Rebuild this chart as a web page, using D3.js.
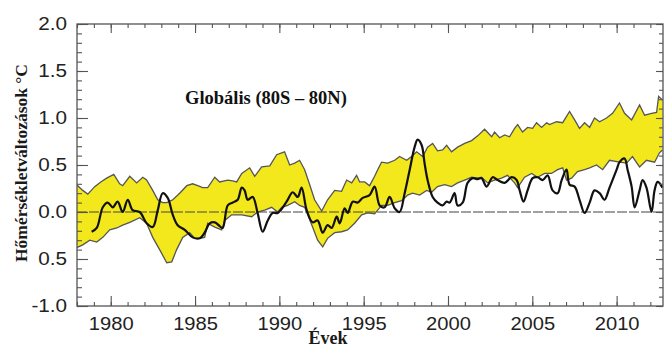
<!DOCTYPE html>
<html>
<head>
<meta charset="utf-8">
<script src="https://cdn.jsdelivr.net/npm/d3@7"></script>
<style>
  html, body { margin: 0; padding: 0; background: #fff; }
  svg { display: block; }
</style>
</head>
<body>
<div id="chart"></div>
<script>
// Felső sáv (modell-tartomány) – év, érték
const upperYears = [1977.98,1978.34,1978.64,1979.05,1979.41,1979.76,1980.18,1980.53,1980.71,1981.13,1981.54,1981.90,1982.13,1982.49,1982.79,1983.08,1983.32,1983.68,1984.09,1984.51,1984.86,1985.16,1985.45,1985.75,1986.17,1986.46,1986.94,1987.23,1987.47,1987.77,1988.24,1988.54,1988.95,1989.43,1989.84,1990.14,1990.31,1990.61,1990.91,1991.20,1991.50,1991.80,1992.09,1992.51,1992.86,1993.28,1993.69,1993.99,1994.29,1994.58,1994.76,1995.06,1995.35,1995.65,1995.83,1996.06,1996.42,1996.84,1997.13,1997.55,1997.84,1998.14,1998.50,1998.79,1999.09,1999.38,1999.68,1999.92,2000.21,2000.57,2000.99,2001.40,2001.76,2002.17,2002.59,2002.76,2003.06,2003.36,2003.65,2003.95,2004.13,2004.42,2004.72,2005.02,2005.25,2005.55,2005.85,2006.02,2006.44,2006.80,2007.21,2007.51,2007.80,2008.10,2008.40,2008.69,2008.99,2009.40,2009.76,2010.17,2010.47,2010.89,2011.36,2011.66,2012.07,2012.37,2012.49,2012.72];
const upperVals = [0.29,0.23,0.19,0.27,0.32,0.36,0.40,0.30,0.28,0.38,0.31,0.37,0.34,0.23,0.13,0.10,0.10,0.13,0.20,0.28,0.30,0.28,0.26,0.26,0.37,0.32,0.34,0.33,0.32,0.41,0.47,0.38,0.48,0.49,0.61,0.63,0.64,0.50,0.52,0.55,0.45,0.29,0.13,0.01,0.13,0.23,0.22,0.34,0.31,0.39,0.32,0.32,0.28,0.38,0.45,0.53,0.52,0.55,0.59,0.55,0.59,0.64,0.59,0.69,0.73,0.65,0.66,0.71,0.64,0.69,0.73,0.76,0.81,0.88,0.80,0.85,0.79,0.82,0.80,0.89,0.93,0.85,0.90,0.89,0.95,0.90,0.95,0.93,0.96,0.95,1.07,0.98,0.89,0.95,0.90,1.00,0.96,1.00,1.05,1.16,1.05,0.98,1.14,1.03,1.05,1.06,1.23,1.19];

// Alsó sáv
const lowerYears = [1977.98,1978.34,1978.76,1979.17,1979.53,1979.94,1980.36,1980.71,1981.13,1981.72,1982.13,1982.49,1982.90,1983.32,1983.62,1983.91,1984.27,1984.68,1984.98,1985.28,1985.57,1985.75,1986.17,1986.58,1986.76,1987.17,1987.77,1988.36,1988.71,1989.13,1989.54,1989.90,1990.14,1990.49,1990.91,1991.20,1991.50,1991.68,1991.97,1992.27,1992.57,1992.86,1993.28,1993.69,1994.05,1994.46,1994.88,1995.24,1995.65,1996.06,1996.42,1996.84,1997.25,1997.61,1997.90,1998.32,1998.73,1999.03,1999.38,1999.80,2000.21,2000.57,2000.99,2001.40,2001.76,2001.99,2002.35,2002.76,2003.18,2003.53,2003.95,2004.13,2004.54,2004.96,2005.31,2005.73,2006.14,2006.50,2006.80,2007.03,2007.33,2007.68,2008.10,2008.40,2008.81,2009.17,2009.58,2010.17,2010.59,2010.94,2011.36,2011.77,2012.25,2012.54,2012.72];
const lowerVals = [-0.38,-0.35,-0.30,-0.32,-0.27,-0.19,-0.17,-0.14,-0.11,-0.06,-0.12,-0.27,-0.40,-0.54,-0.53,-0.40,-0.27,-0.22,-0.28,-0.28,-0.27,-0.12,-0.16,-0.19,-0.09,-0.03,-0.03,-0.05,0.00,0.02,0.05,0.00,0.05,0.07,0.11,0.07,0.05,-0.03,-0.16,-0.30,-0.37,-0.28,-0.22,-0.21,-0.19,-0.12,-0.03,-0.01,-0.02,0.07,0.07,0.10,0.12,0.18,0.20,0.18,0.23,0.21,0.27,0.29,0.27,0.31,0.34,0.37,0.36,0.37,0.31,0.34,0.36,0.39,0.31,0.26,0.37,0.41,0.37,0.41,0.41,0.45,0.47,0.34,0.36,0.43,0.45,0.47,0.50,0.45,0.55,0.53,0.52,0.59,0.48,0.55,0.53,0.63,0.66];

// Megfigyelt anomália (fekete görbe)
const obsYears = [1978.87,1979.17,1979.53,1979.82,1980.12,1980.41,1980.71,1981.01,1981.30,1981.72,1982.13,1982.49,1982.79,1983.08,1983.38,1983.68,1983.97,1984.39,1984.86,1985.28,1985.57,1985.87,1986.17,1986.46,1986.64,1986.94,1987.23,1987.53,1987.77,1987.94,1988.12,1988.42,1988.71,1989.01,1989.31,1989.60,1989.90,1990.43,1990.79,1991.09,1991.32,1991.62,1991.97,1992.27,1992.57,1992.86,1993.10,1993.40,1993.58,1993.87,1994.05,1994.35,1994.64,1994.94,1995.35,1995.65,1995.95,1996.24,1996.54,1996.84,1997.13,1997.43,1997.73,1998.02,1998.20,1998.44,1998.61,1998.79,1999.09,1999.38,1999.68,1999.92,2000.10,2000.39,2000.57,2000.87,2001.16,2001.46,2001.76,2001.99,2002.29,2002.65,2002.94,2003.36,2003.77,2004.07,2004.25,2004.48,2004.72,2005.02,2005.31,2005.61,2005.91,2006.20,2006.50,2006.74,2007.03,2007.21,2007.51,2007.80,2008.10,2008.40,2008.69,2008.99,2009.28,2009.58,2010.00,2010.17,2010.47,2010.65,2010.89,2011.07,2011.36,2011.54,2011.77,2012.07,2012.25,2012.43,2012.72];
const obsVals = [-0.21,-0.17,0.05,0.10,0.05,0.11,0.00,0.13,0.02,0.00,-0.12,-0.16,0.02,0.20,0.15,-0.03,-0.14,-0.19,-0.27,-0.28,-0.22,-0.12,-0.11,-0.15,-0.17,0.07,0.10,0.13,0.26,0.23,0.13,0.16,-0.01,-0.21,-0.09,-0.01,-0.01,0.11,0.21,0.16,0.26,0.02,-0.11,-0.09,-0.22,-0.14,-0.17,-0.05,-0.12,0.04,-0.01,0.11,0.10,0.15,0.18,0.27,0.07,0.05,0.16,0.04,0.00,0.20,0.45,0.69,0.77,0.71,0.52,0.34,0.16,0.10,0.07,0.11,0.10,0.20,0.07,0.10,0.31,0.36,0.35,0.36,0.27,0.37,0.34,0.31,0.37,0.34,0.23,0.11,0.23,0.36,0.37,0.34,0.39,0.23,0.20,0.34,0.45,0.29,0.27,0.13,-0.01,0.10,0.23,0.20,0.13,0.26,0.45,0.53,0.57,0.45,0.27,0.05,0.23,0.34,0.26,0.00,0.23,0.32,0.26];

const xMajorTicks = [1980, 1985, 1990, 1995, 2000, 2005, 2010];
const xMinorTicks = d3.range(1978, 2013);
const yMajorTicks = [-1.0, -0.5, 0.0, 0.5, 1.0, 1.5, 2.0];
const yTickLabels = ["-1.0", "0.5", "0.0", "0.5", "1.0", "1.5", "2.0"];
const yMinorTicks = d3.range(-10, 21).map(d => d / 10);

const W = 668, H = 349;
const margin = { top: 24, right: 5, bottom: 43, left: 77 };
const width = W - margin.left - margin.right;
const height = H - margin.top - margin.bottom;

const svg = d3.select("#chart").append("svg")
  .attr("width", W)
  .attr("height", H);

const g = svg.append("g")
  .attr("transform", `translate(${margin.left},${margin.top})`);

const x = d3.scaleLinear().domain([1978, 2012.75]).range([0, width]);
const y = d3.scaleLinear().domain([-1, 2]).range([height, 0]);

const upper = upperYears.map((yr, i) => [yr, upperVals[i]]);
const lower = lowerYears.map((yr, i) => [yr, lowerVals[i]]);
const obs = obsYears.map((yr, i) => [yr, obsVals[i]]);

const line = d3.line().x(d => x(d[0])).y(d => y(d[1]));

g.append("clipPath").attr("id", "plotclip")
  .append("rect").attr("width", width).attr("height", height);

const plot = g.append("g").attr("clip-path", "url(#plotclip)");

// sáv kitöltése
plot.append("path")
  .attr("d", line(upper.concat(lower.slice().reverse())) + "Z")
  .attr("fill", "#f2e81c")
  .attr("stroke", "none");

// sáv szélei
[upper, lower].forEach(s => {
  plot.append("path")
    .attr("d", line(s))
    .attr("fill", "none")
    .attr("stroke", "#555")
    .attr("stroke-width", 1.3);
});

// nulla vonal
plot.append("line")
  .attr("x1", 0).attr("x2", width)
  .attr("y1", y(0)).attr("y2", y(0))
  .attr("stroke", "#444")
  .attr("stroke-width", 1.2)
  .attr("stroke-dasharray", "10,2");

// megfigyelt görbe
plot.append("path")
  .attr("d", line.curve(d3.curveCatmullRom)(obs))
  .attr("fill", "none")
  .attr("stroke", "#111")
  .attr("stroke-width", 2.2)
  .attr("stroke-linejoin", "round");

// tengelyek
const tickColor = "#555";
function styleAxis(sel) {
  sel.select(".domain").remove();
  sel.selectAll(".tick line").attr("stroke", tickColor).attr("stroke-width", 1.1);
}

// alsó
g.append("g").attr("transform", `translate(0,${height})`)
  .call(d3.axisBottom(x).tickValues(xMinorTicks).tickSize(-4).tickFormat(""))
  .call(styleAxis);
const xAx = g.append("g").attr("transform", `translate(0,${height})`)
  .call(d3.axisBottom(x).tickValues(xMajorTicks).tickSize(-10).tickPadding(11).tickFormat(d3.format("d")))
  .call(styleAxis);
xAx.selectAll("text")
  .attr("font-family", "'Liberation Sans', Arial, sans-serif")
  .attr("font-size", "18px")
  .attr("fill", "#222")
  .attr("transform", "scale(1.12,1)");

// felső
g.append("g")
  .call(d3.axisTop(x).tickValues(xMinorTicks).tickSize(-4).tickFormat(""))
  .call(styleAxis);
g.append("g")
  .call(d3.axisTop(x).tickValues(xMajorTicks).tickSize(-9).tickFormat(""))
  .call(styleAxis);

// bal
g.append("g")
  .call(d3.axisLeft(y).tickValues(yMinorTicks).tickSize(-5).tickFormat(""))
  .call(styleAxis);
const yAx = g.append("g")
  .call(d3.axisLeft(y).tickValues(yMajorTicks).tickSize(-11).tickPadding(10)
    .tickFormat((d, i) => yTickLabels[i]))
  .call(styleAxis);
yAx.selectAll("text")
  .attr("font-family", "'Liberation Sans', Arial, sans-serif")
  .attr("font-size", "18px")
  .attr("fill", "#222")
  .attr("x", -10 / 1.15)
  .attr("transform", "scale(1.15,1)");

// jobb
g.append("g").attr("transform", `translate(${width},0)`)
  .call(d3.axisRight(y).tickValues(yMinorTicks).tickSize(-4).tickFormat(""))
  .call(styleAxis);
g.append("g").attr("transform", `translate(${width},0)`)
  .call(d3.axisRight(y).tickValues(yMajorTicks).tickSize(-7).tickFormat(""))
  .call(styleAxis);

// keret
g.append("rect")
  .attr("width", width).attr("height", height)
  .attr("fill", "none")
  .attr("stroke", "#555")
  .attr("stroke-width", 1.3);

// feliratok
const serif = "'Liberation Serif', 'Times New Roman', serif";

svg.append("text")
  .attr("x", 185).attr("y", 104)
  .attr("font-family", serif).attr("font-weight", "bold")
  .attr("font-size", "18.5px").attr("fill", "#111")
  .text("Globális (80S – 80N)");

svg.append("text")
  .attr("x", 328).attr("y", 344)
  .attr("text-anchor", "middle")
  .attr("font-family", serif).attr("font-weight", "bold")
  .attr("font-size", "18px").attr("fill", "#1a1a1a")
  .text("Évek");

svg.append("text")
  .attr("transform", "translate(27,163) rotate(-90)")
  .attr("text-anchor", "middle")
  .attr("font-family", serif).attr("font-weight", "bold")
  .attr("font-size", "17.5px").attr("fill", "#1a1a1a")
  .text("Hőmérsékletváltozások °C");
</script>
</body>
</html>
